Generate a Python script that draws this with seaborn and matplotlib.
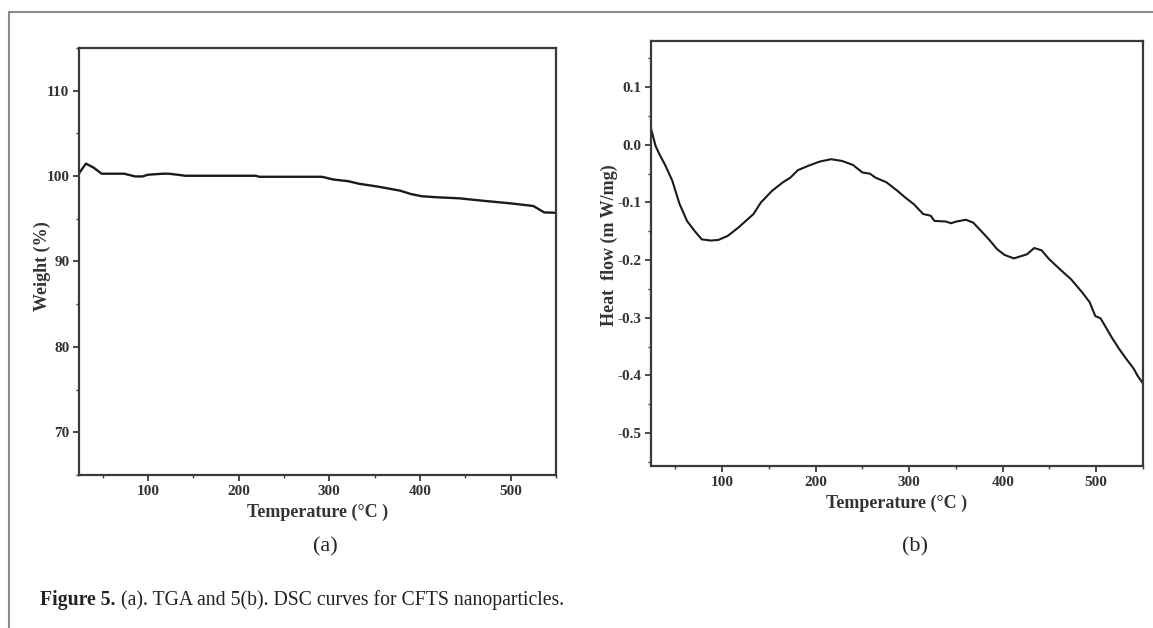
import numpy as np
import pandas as pd
import matplotlib
matplotlib.use("Agg")
import matplotlib.pyplot as plt
import seaborn as sns
from matplotlib.ticker import MultipleLocator

# ---- data ----
tga_temp = [24, 25, 31.6, 40, 49, 73.8, 86, 94, 100, 116.6, 122.7, 133, 141, 218.7, 222.8,
            292, 304.5, 321, 333, 353, 377.9, 390, 402, 418.7, 443, 467.8, 500.6, 525, 537, 550]
tga_weight = [100.3, 100.47, 101.46, 101.0, 100.28, 100.28, 99.96, 99.96, 100.16, 100.28, 100.28,
              100.16, 100.04, 100.04, 99.92, 99.92, 99.6, 99.4, 99.1, 98.78, 98.3, 97.9, 97.64,
              97.52, 97.4, 97.13, 96.8, 96.5, 95.75, 95.7]

dsc_temp = [24.2, 28.9, 32.9, 38.8, 46.7, 54.6, 62.5, 70.4, 78.3, 88, 96, 106, 117.8, 133.6,
            141.5, 153.3, 165, 173, 181, 192.8, 204.6, 216.5, 228.3, 240, 250, 258, 264, 275.7,
            287.6, 295.5, 305, 315, 323, 327, 339, 344.8, 350.7, 360.6, 368.5, 378.4, 386.3,
            394, 402, 412, 419.8, 425.8, 433.7, 441.6, 449.5, 461.3, 473, 485, 493, 499,
            504.7, 516.6, 524.5, 532, 540, 544, 550]
dsc_heat = [0.027, -0.002, -0.016, -0.034, -0.062, -0.103, -0.132, -0.149, -0.164, -0.166,
            -0.165, -0.158, -0.143, -0.120, -0.100, -0.080, -0.065, -0.057, -0.044, -0.036,
            -0.029, -0.025, -0.028, -0.035, -0.048, -0.050, -0.057, -0.065, -0.080, -0.091,
            -0.103, -0.120, -0.123, -0.132, -0.133, -0.136, -0.133, -0.130, -0.135, -0.152,
            -0.166, -0.181, -0.191, -0.197, -0.193, -0.190, -0.179, -0.183, -0.198, -0.216,
            -0.233, -0.256, -0.273, -0.297, -0.301, -0.334, -0.354, -0.371, -0.388, -0.400,
            -0.414]

x_ticks = [100, 200, 300, 400, 500]
y_ticks_a = [70, 80, 90, 100, 110]
y_ticks_b = [-0.5, -0.4, -0.3, -0.2, -0.1, 0.0, 0.1]
y_ticklabels_b = ["-0.5", "-0.4", "-0.3", "-0.2", "-0.1", "0.0", "0.1"]
x_label = "Temperature (°C )"
y_label_a = "Weight (%)"
y_label_b = "Heat  flow (m W/mg)"
panel_labels = ["(a)", "(b)"]
caption_bold = "Figure 5."
caption_rest = " (a). TGA and 5(b). DSC curves for CFTS nanoparticles."

sns.set_theme(style="ticks")
plt.rcParams['font.family'] = ['Liberation Serif', 'DejaVu Serif']

W, H = 1153, 628
fig = plt.figure(figsize=(W / 100, H / 100), dpi=100)
fig.patch.set_facecolor("white")

def box(l, t, r, b):
    return [l / W, 1 - b / H, (r - l) / W, (b - t) / H]

ax_a = fig.add_axes(box(79, 48, 556, 475))
ax_b = fig.add_axes(box(651, 41, 1143, 466))

df_a = pd.DataFrame({"T": tga_temp, "W": tga_weight})
df_b = pd.DataFrame({"T": dsc_temp, "H": dsc_heat})
sns.lineplot(data=df_a, x="T", y="W", ax=ax_a, color="#1a1a1a", linewidth=1.7, sort=False)
sns.lineplot(data=df_b, x="T", y="H", ax=ax_b, color="#1a1a1a", linewidth=1.5, sort=False)

spine_col = "#3a3a3a"
txt_col = "#333333"
for ax in (ax_a, ax_b):
    ax.set_facecolor("white")
    for s in ax.spines.values():
        s.set_color(spine_col)
        s.set_linewidth(1.6)
    ax.set_xlim(24, 550)
    ax.set_xticks(x_ticks)
    ax.xaxis.set_minor_locator(MultipleLocator(50))
    ax.tick_params(which="major", direction="out", length=4, width=1.3, color=spine_col,
                   labelsize=11, pad=3, top=False, right=False)
    ax.tick_params(which="minor", direction="out", length=2.5, width=1.0, color=spine_col,
                   top=False, right=False)
    ax.set_xlabel(x_label, fontsize=13, fontweight="bold", color=txt_col, labelpad=4)

ax_a.set_ylim(65, 115)
ax_a.set_yticks(y_ticks_a)
ax_a.yaxis.set_minor_locator(MultipleLocator(5))
ax_a.set_ylabel(y_label_a, fontsize=13, fontweight="bold", color=txt_col)
ax_a.yaxis.set_label_coords(-0.058, 0.49)

ax_b.set_ylim(-0.557, 0.18)
ax_b.set_yticks(y_ticks_b)
ax_b.set_yticklabels(y_ticklabels_b)
ax_b.yaxis.set_minor_locator(MultipleLocator(0.05))
ax_b.set_ylabel(y_label_b, fontsize=13, fontweight="bold", color=txt_col)
ax_b.yaxis.set_label_coords(-0.068, 0.52)

for ax in (ax_a, ax_b):
    for lab in ax.get_xticklabels() + ax.get_yticklabels():
        lab.set_fontweight("bold")
        lab.set_color(txt_col)

# panel labels
fig.text(325 / W, 1 - 547 / H, panel_labels[0], ha="center", va="center", fontsize=16, color="#222222")
fig.text(915 / W, 1 - 547 / H, panel_labels[1], ha="center", va="center", fontsize=16, color="#222222")

# caption
cap_fs = 14.2
t1 = fig.text(40 / W, 1 - 600 / H, caption_bold, ha="left", va="center", fontsize=cap_fs,
              fontweight="bold", color="#222222")
fig.canvas.draw()
bb = t1.get_window_extent()
fig.text(bb.x1 / W, 1 - 600 / H, caption_rest, ha="left", va="center", fontsize=cap_fs, color="#222222")

# outer frame lines (left and top)
fig.add_artist(plt.Line2D([9 / W, 9 / W], [0, 1 - 12 / H], transform=fig.transFigure,
                          color="#8a8a8a", linewidth=1.5))
fig.add_artist(plt.Line2D([9 / W, 1], [1 - 12 / H, 1 - 12 / H], transform=fig.transFigure,
                          color="#8a8a8a", linewidth=1.5))

fig.savefig("out.png", dpi=100, facecolor="white")
